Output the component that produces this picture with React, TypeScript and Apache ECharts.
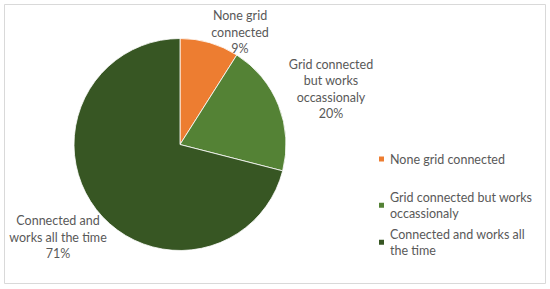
import React, { useEffect, useRef } from "react";
import * as echarts from "echarts";

const categories = [
  "None grid connected",
  "Grid connected but works occassionaly",
  "Connected and works all the time",
];
const values = [9, 20, 71];
const colors = ["#ED7D31", "#548235", "#375623"];
const labelNames = [
  "None grid\nconnected",
  "Grid connected\nbut works\noccassionaly",
  "Connected and\nworks all the time",
];
const legendNames = [
  "None grid connected",
  "Grid connected but works\noccassionaly",
  "Connected and works all\nthe time",
];

const FONT = "Lato, 'Open Sans', sans-serif";
const TEXT = "#595959";
const LH = 16.5;
// label anchor positions (layout only)
const labelPos = [
  [240, 32],
  [331, 89],
  [58, 237],
];
const legendFirstLine = [159, 197, 234];

export default function App() {
  const ref = useRef<HTMLDivElement>(null);
  useEffect(() => {
    document.body.style.margin = "0";
    const chart = echarts.init(ref.current!, null, { renderer: "svg" });
    const legends = categories.map((c, i) => {
      const multi = legendNames[i].includes("\n");
      return {
        data: [c],
        orient: "vertical",
        left: 377,
        top: legendFirstLine[i] - (multi ? LH : LH / 2),
        padding: 0,
        itemWidth: 7,
        itemHeight: 7,
        icon: "rect",
        selectedMode: false,
        formatter: () => legendNames[i],
        textStyle: {
          fontFamily: FONT,
          fontSize: 12.5,
          lineHeight: LH,
          color: TEXT,
          padding: multi ? [LH, 0, 0, 0] : 0,
        },
      };
    });
    chart.setOption({
      animation: false,
      backgroundColor: "#ffffff",
      legend: legends,
      graphic: [
        {
          type: "rect",
          shape: { x: 4.5, y: 4.5, width: 541, height: 279 },
          style: { fill: "none", stroke: "#d9d9d9", lineWidth: 1 },
          silent: true,
        },
      ],
      series: [
        {
          type: "pie",
          center: [180, 144.5],
          radius: 106,
          startAngle: 90,
          clockwise: true,
          data: categories.map((c, i) => ({
            name: c,
            value: values[i],
            itemStyle: { color: colors[i] },
          })),
          itemStyle: { borderColor: "#ffffff", borderWidth: 0.8 },
          label: {
            show: true,
            position: "outside",
            formatter: (p: any) => `${labelNames[p.dataIndex]}\n${p.percent}%`,
            fontFamily: FONT,
            fontSize: 12.5,
            lineHeight: LH,
            color: TEXT,
            align: "center",
            overflow: "none",
            width: 200,
          },
          labelLine: { show: false },
          labelLayout: (p: any) => ({
            x: labelPos[p.dataIndex][0],
            y: labelPos[p.dataIndex][1],
            align: "center",
            verticalAlign: "middle",
          }),
          emphasis: { disabled: true },
        },
      ],
    });
    return () => chart.dispose();
  }, []);
  return <div ref={ref} style={{ width: 550, height: 289 }} />;
}
